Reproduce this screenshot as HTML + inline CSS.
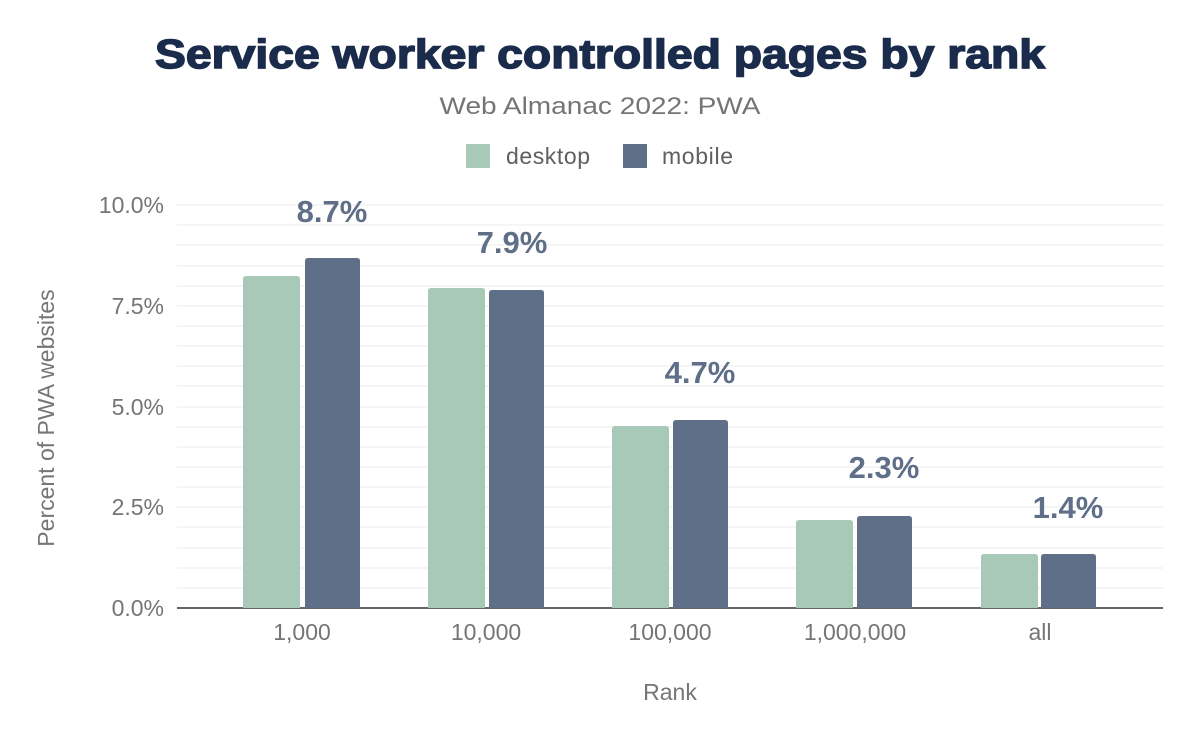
<!DOCTYPE html>
<html><head><style>
body{margin:0;background:#fff;font-family:"Liberation Sans",Arial,sans-serif;}
</style></head><body>
<svg width="1200" height="742" xmlns="http://www.w3.org/2000/svg" font-family="Liberation Sans, Arial, sans-serif">
<rect width="1200" height="742" fill="#fff"/>
<text x="155" y="68" textLength="890" lengthAdjust="spacingAndGlyphs" font-size="41" font-weight="900" fill="#1a2b4b" stroke="#1a2b4b" stroke-width="1.5">Service worker controlled pages by rank</text>
<text x="600" y="114" text-anchor="middle" font-size="24" fill="#757575" textLength="321" lengthAdjust="spacingAndGlyphs">Web Almanac 2022: PWA</text>
<rect x="466" y="144" width="24" height="24" fill="#a8c9b8"/>
<text x="506" y="164" font-size="23" fill="#5f5f5f" textLength="84">desktop</text>
<rect x="623" y="144" width="24" height="24" fill="#5f6f88"/>
<text x="662" y="164" font-size="23" fill="#5f5f5f" textLength="71">mobile</text>
<g stroke="#f2f2f2" stroke-width="1.5">
<line x1="177" x2="1163" y1="205" y2="205"/><line x1="177" x2="1163" y1="225" y2="225"/><line x1="177" x2="1163" y1="245" y2="245"/><line x1="177" x2="1163" y1="266" y2="266"/><line x1="177" x2="1163" y1="286" y2="286"/><line x1="177" x2="1163" y1="306" y2="306"/><line x1="177" x2="1163" y1="326" y2="326"/><line x1="177" x2="1163" y1="346" y2="346"/><line x1="177" x2="1163" y1="366" y2="366"/><line x1="177" x2="1163" y1="386" y2="386"/><line x1="177" x2="1163" y1="407" y2="407"/><line x1="177" x2="1163" y1="427" y2="427"/><line x1="177" x2="1163" y1="447" y2="447"/><line x1="177" x2="1163" y1="467" y2="467"/><line x1="177" x2="1163" y1="487" y2="487"/><line x1="177" x2="1163" y1="507" y2="507"/><line x1="177" x2="1163" y1="527" y2="527"/><line x1="177" x2="1163" y1="548" y2="548"/><line x1="177" x2="1163" y1="568" y2="568"/><line x1="177" x2="1163" y1="588" y2="588"/>
</g>
<line x1="177" x2="1163" y1="608" y2="608" stroke="#333" stroke-width="1.5"/>
<g font-size="23" fill="#757575" text-anchor="end">
<text x="164" y="213">10.0%</text><text x="164" y="314">7.5%</text><text x="164" y="415">5.0%</text><text x="164" y="515">2.5%</text><text x="164" y="616">0.0%</text>
</g>
<text transform="translate(54,418) rotate(-90)" text-anchor="middle" font-size="23" fill="#757575">Percent of PWA websites</text>
<g fill="#a8c9b8">
<path d="M243,608V279q0,-3 3,-3h51q3,0 3,3V608z"/>
<path d="M428,608V291q0,-3 3,-3h51q3,0 3,3V608z"/>
<path d="M612,608V429q0,-3 3,-3h51q3,0 3,3V608z"/>
<path d="M796,608V523q0,-3 3,-3h51q3,0 3,3V608z"/>
<path d="M981,608V557q0,-3 3,-3h51q3,0 3,3V608z"/>
</g>
<g fill="#5f6f88">
<path d="M305,608V261q0,-3 3,-3h49q3,0 3,3V608z"/>
<path d="M489,608V293q0,-3 3,-3h49q3,0 3,3V608z"/>
<path d="M673,608V423q0,-3 3,-3h49q3,0 3,3V608z"/>
<path d="M857,608V519q0,-3 3,-3h49q3,0 3,3V608z"/>
<path d="M1041,608V557q0,-3 3,-3h49q3,0 3,3V608z"/>
</g>
<g font-size="31" font-weight="bold" fill="#5f6f88" text-anchor="middle">
<text x="332" y="222">8.7%</text><text x="512" y="253">7.9%</text><text x="700" y="383">4.7%</text><text x="884" y="478">2.3%</text><text x="1068" y="518">1.4%</text>
</g>
<g font-size="23" fill="#757575" text-anchor="middle">
<text x="302" y="640">1,000</text><text x="486" y="640">10,000</text><text x="670" y="640">100,000</text><text x="855" y="640">1,000,000</text><text x="1040" y="640">all</text>
</g>
<text x="670" y="700" text-anchor="middle" font-size="23" fill="#757575">Rank</text>
</svg>
</body></html>
